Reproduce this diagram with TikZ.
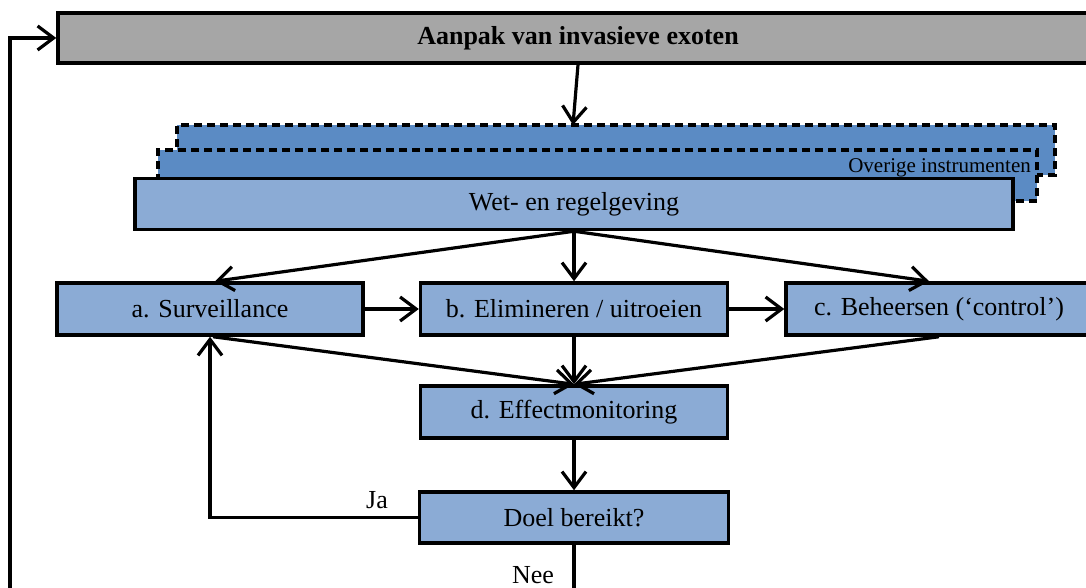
\documentclass[tikz,border=0pt]{standalone}
\usepackage{fontspec}
\setmainfont{Liberation Serif}
\usetikzlibrary{arrows.meta,calc}
\definecolor{boxblue}{RGB}{139,171,213}
\definecolor{darkblue}{RGB}{91,139,196}
\definecolor{titlegray}{RGB}{166,166,166}
\tikzset{
  box/.style={draw=black,line width=3.5pt,fill=boxblue,rectangle,inner sep=0pt,
    minimum height=52pt,font=\fontsize{26}{30}\selectfont},
  dbox/.style={draw=black,line width=3.5pt,fill=darkblue,rectangle,inner sep=0pt,
    dash pattern=on 8pt off 5pt,minimum height=50pt},
  conn/.style={line width=3.2pt,-{Straight Barb[length=16pt,width=24pt,line width=3.2pt]}},
  plain/.style={line width=3.2pt},
  lbl/.style={font=\fontsize{26}{30}\selectfont,inner sep=0pt,anchor=base}
}
\begin{document}
\begin{tikzpicture}[x=1pt,y=-1pt]
\useasboundingbox (0,0) rectangle (1086,588);
\clip (0,0) rectangle (1086,588);
% title
\node[box,fill=titlegray,minimum width=1040pt,minimum height=50pt,
  font=\fontsize{26}{30}\selectfont\bfseries] (title) at (578,38) {Aanpak van invasieve exoten};
% stacked instrument boxes
\node[dbox,minimum width=878pt] (back) at (616,150) {};
\node[dbox,minimum width=879pt,minimum height=51pt] (mid) at (597.5,175.5) {};
\node[font=\fontsize{21}{25}\selectfont,inner sep=0pt,anchor=base east] (ovl) at (1031,173) {Overige instrumenten};
\node[box,minimum width=878pt,minimum height=51pt] (wet) at (574,204) {Wet- en regelgeving};
% process boxes
\node[box,minimum width=306pt] (a) at (210,309) {a. Surveillance};
\node[box,minimum width=307pt] (b) at (574,309) {b. Elimineren / uitroeien};
\node[box,minimum width=306pt] (c) at (939,309) {c. Beheersen (‘control’)};
\node[box,minimum width=307pt] (d) at (574,412) {d. Effectmonitoring};
\node[box,minimum width=309pt,minimum height=51pt] (doel) at (574,517.5) {Doel bereikt?};
% labels
\node[lbl] (ja) at (377,508) {Ja};
\node[lbl] (nee) at (533,583) {Nee};
% free ends
\coordinate (tin) at (573,125);
\coordinate (neeend) at (574,600);
\coordinate (lbot) at (10,600);
% connectors
\draw[conn] (title.south -| 578,0) -- (tin);
\draw[conn] (wet.south) -- ([xshift=5pt]a.north);
\draw[conn] (wet.south) -- (b.north);
\draw[conn] (wet.south) -- ([xshift=-10pt]c.north);
\draw[conn] (a.east) -- (b.west);
\draw[conn] (b.east) -- (c.west);
\draw[conn] ([xshift=3pt]a.south) -- (d.north);
\draw[conn] (b.south) -- (d.north);
\draw[conn] (c.south) -- (d.north);
\draw[conn] (d.south) -- (doel.north);
\draw[conn] (doel.west) -| (a.south);
\draw[plain] (doel.south) -- (neeend);
\draw[conn] (lbot) |- (title.west);
\end{tikzpicture}
\end{document}
